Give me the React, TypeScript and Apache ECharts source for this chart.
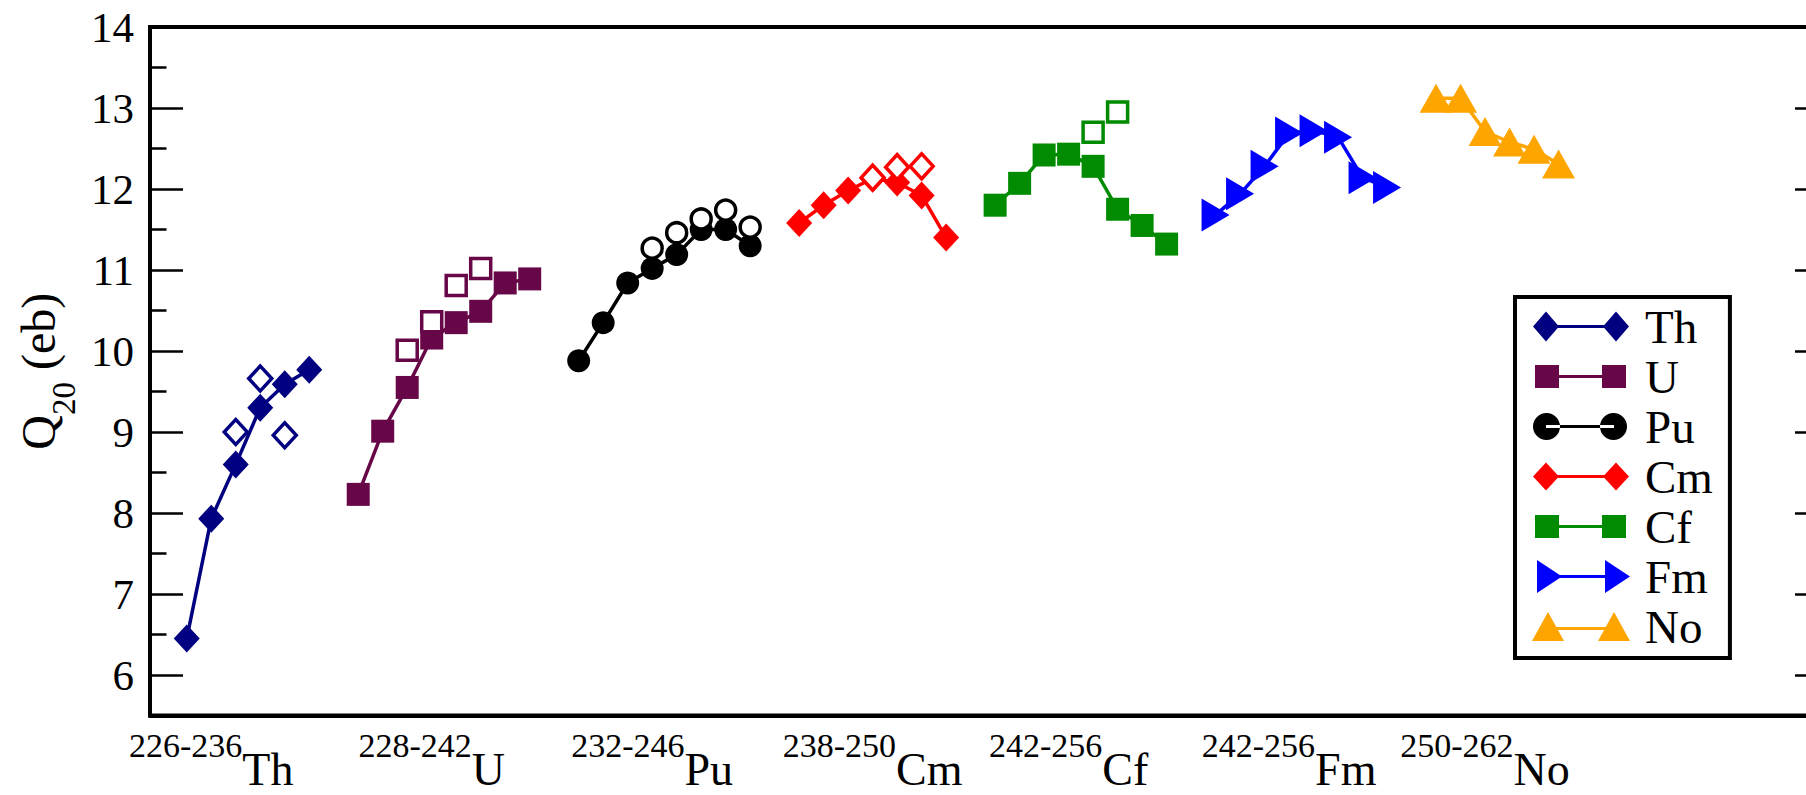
import React, { useEffect, useRef } from 'react';
import * as echarts from 'echarts';

// ---- data ----
const elements = ['Th', 'U', 'Pu', 'Cm', 'Cf', 'Fm', 'No'];
const massRanges = ['226-236', '228-242', '232-246', '238-250', '242-256', '242-256', '250-262'];
const groupStart = [0, 7, 16, 25, 33, 42, 51];
const labelPositions = [1, 10, 19, 28, 36, 45, 53];
const colors = ['#000080', '#670748', '#000000', '#ff0000', '#008b00', '#0000ff', '#ffa500'];

const thValues = [6.45, 7.93, 8.6, 9.3, 9.59, 9.77];
const uValues = [8.23, 9.01, 9.55, 10.16, 10.35, 10.49, 10.84, 10.89];
const puValues = [9.88, 10.35, 10.84, 11.02, 11.19, 11.5, 11.5, 11.3];
const cmValues = [11.58, 11.8, 11.98, 12.13, 12.08, 11.92, 11.4];
const cfValues = [11.8, 12.07, 12.42, 12.43, 12.28, 11.75, 11.55, 11.32];
const fmValues = [11.68, 11.94, 12.28, 12.69, 12.72, 12.64, 12.14, 12.02];
const noValues = [13.12, 13.12, 12.71, 12.58, 12.49, 12.31];

const thOpen = [null, null, 9.0, 9.66, 8.96, null];
const uOpen = [null, null, 10.01, 10.36, 10.81, 11.02, null, null];
const puOpen = [null, null, null, 11.27, 11.46, 11.63, 11.74, 11.53];
const cmOpen = [null, null, null, 12.14, 12.27, 12.28, null];
const cfOpen = [null, null, null, null, 12.7, 12.95, null, null];
const fmOpen = [null, null, null, null, null, null, null, null];
const noOpen = [null, null, null, null, null, null];

const yMajorTicks = [6, 7, 8, 9, 10, 11, 12, 13, 14];
const yMinorTicks = [6.5, 7.5, 8.5, 9.5, 10.5, 11.5, 12.5, 13.5];

const solidValues = [thValues, uValues, puValues, cmValues, cfValues, fmValues, noValues];
const openValues = [thOpen, uOpen, puOpen, cmOpen, cfOpen, fmOpen, noOpen];

// ---- styling ----
const FONT = "'Liberation Serif', 'DejaVu Serif', serif";
const symbols = ['diamond', 'rect', 'circle', 'diamond', 'rect', 'triangle', 'triangle'];
const symbolSizes: any[] = [[26, 28], 23, 23, [26, 28], 23, [33, 28], [33, 29]];
const openSizes: any[] = [[23, 25], 20, 20, [23, 25], 20, [30, 25], [30, 26]];
const symbolRotates = [0, 0, 0, 0, 0, -90, 0];

const BOX = 'M0,0M98,34';
const legendIcons = [
  'path://' + BOX + 'M1,17L14,2L27,17L14,32ZM71,17L84,2L97,17L84,32ZM14,15.5H84V18.5H14Z',
  'path://' + BOX + 'M3,5.5H27V28.5H3ZM70,5.5H94V28.5H70ZM27,15.5H70V18.5H27Z',
  'path://' + BOX + 'M1,17A13.5,13.5 0 1,0 28,17A13.5,13.5 0 1,0 1,17ZM68,17A13.5,13.5 0 1,0 95,17A13.5,13.5 0 1,0 68,17ZM14,15.5H82V18.5H14Z',
  'path://' + BOX + 'M1,17L14,3L27,17L14,31ZM71,17L84,3L97,17L84,31ZM14,15.5H84V18.5H14Z',
  'path://' + BOX + 'M3,5.5H27V28.5H3ZM70,5.5H94V28.5H70ZM27,15.5H70V18.5H27Z',
  'path://' + BOX + 'M5,0.5L30,17L5,33.5ZM73,0.5L98,17L73,33.5ZM17,15.5H85V18.5H17Z',
  'path://' + BOX + 'M0,31.5L16,2.5L32,31.5ZM66,31.5L82,2.5L98,31.5ZM16,17.5H82V20.5H16Z',
];

export default function App() {
  const ref = useRef<HTMLDivElement>(null);

  useEffect(() => {
    if (!ref.current) return;
    const chart = echarts.init(ref.current, undefined, { renderer: 'svg' });

    const series: any[] = [];
    elements.forEach((el, k) => {
      series.push({
        type: 'line',
        name: el,
        data: solidValues[k].map((v, i) => [groupStart[k] + i, v]),
        symbol: symbols[k],
        symbolSize: symbolSizes[k],
        symbolRotate: symbolRotates[k],
        showSymbol: true,
        showAllSymbol: true,
        lineStyle: { color: colors[k], width: 3.5 },
        itemStyle: { color: colors[k], borderWidth: 0 },
        emphasis: { disabled: true },
        z: 2,
      });
    });
    elements.forEach((el, k) => {
      const pts = openValues[k]
        .map((v, i) => (v == null ? null : [groupStart[k] + i, v]))
        .filter((p) => p !== null);
      if (pts.length === 0) return;
      series.push({
        type: 'scatter',
        name: el + ' open',
        data: pts,
        symbol: symbols[k],
        symbolSize: openSizes[k],
        symbolRotate: symbolRotates[k],
        itemStyle: { color: '#ffffff', borderColor: colors[k], borderWidth: 3.5, opacity: 1 },
        emphasis: { disabled: true },
        z: 3,
      });
    });

    const yBase = {
      type: 'value',
      min: 5.5,
      max: 14,
      splitLine: { show: false },
      axisLabel: { show: false },
      axisLine: { show: false, onZero: false },
    };

    chart.setOption({
      animation: false,
      backgroundColor: '#ffffff',
      textStyle: { fontFamily: FONT },
      grid: {
        left: 150,
        right: -22,
        top: 27,
        bottom: 79.5,
        show: true,
        borderColor: '#000',
        borderWidth: 4,
        containLabel: false,
        outerBoundsMode: 'none',
      },
      legend: {
        orient: 'vertical',
        left: 1515,
        top: 297,
        padding: [6, 17, 8, 17],
        itemWidth: 98,
        itemHeight: 34,
        itemGap: 3,
        borderColor: '#000',
        borderWidth: 4,
        backgroundColor: '#ffffff',
        itemStyle: { borderWidth: 0 },
        textStyle: {
          fontFamily: FONT,
          fontSize: 47,
          color: '#000',
          lineHeight: 40,
          padding: [0, 0, 0, 10],
        },
        data: elements.map((el, k) => ({ name: el, icon: legendIcons[k] })),
        selectedMode: false,
      },
      xAxis: {
        type: 'value',
        min: -1.5,
        max: 67,
        axisLine: { show: true, onZero: false, lineStyle: { color: '#000', width: 4 } },
        axisTick: { show: false },
        splitLine: { show: false },
        axisLabel: {
          customValues: labelPositions,
          margin: 13,
          fontFamily: FONT,
          formatter: (value: number) => {
            const k = labelPositions.indexOf(value);
            if (k < 0) return '';
            return '{sup|' + massRanges[k] + '}{el|' + elements[k] + '}';
          },
          rich: {
            sup: {
              fontFamily: FONT,
              fontSize: 34,
              lineHeight: 34,
              color: '#000',
              verticalAlign: 'top',
            },
            el: {
              fontFamily: FONT,
              fontSize: 46,
              lineHeight: 40,
              color: '#000',
              verticalAlign: 'top',
              padding: [17.5, 0, 0, 0],
            },
          },
        },
      },
      yAxis: [
        {
          type: 'value',
          min: 5.5,
          max: 14,
          position: 'left',
          splitLine: { show: false },
          axisLine: { show: true, onZero: false, lineStyle: { color: '#000', width: 4 } },
          axisTick: {
            show: true,
            inside: true,
            length: 33,
            customValues: yMajorTicks,
            lineStyle: { color: '#000', width: 2.5 },
          },
          axisLabel: {
            customValues: yMajorTicks,
            fontFamily: FONT,
            fontSize: 43,
            color: '#000',
            margin: 16,
          },
          name: '{q|Q}{s|20}{q| (eb)}',
          nameLocation: 'middle',
          nameRotate: 90,
          nameGap: 84,
          nameTextStyle: {
            fontFamily: FONT,
            rich: {
              q: { fontFamily: FONT, fontSize: 48, lineHeight: 48, color: '#000', verticalAlign: 'top' },
              s: {
                fontFamily: FONT,
                fontSize: 33,
                lineHeight: 33,
                color: '#000',
                verticalAlign: 'top',
                padding: [32.6, 0, 0, 0],
              },
            },
          },
        },
        {
          ...yBase,
          position: 'left',
          axisTick: {
            show: true,
            inside: true,
            length: 16.5,
            customValues: yMinorTicks,
            lineStyle: { color: '#000', width: 2.5 },
          },
        },
        {
          ...yBase,
          position: 'right',
          axisTick: {
            show: true,
            inside: true,
            length: 33,
            customValues: yMajorTicks,
            lineStyle: { color: '#000', width: 2.5 },
          },
        },
        {
          ...yBase,
          position: 'right',
          axisTick: {
            show: true,
            inside: true,
            length: 16.5,
            customValues: yMinorTicks,
            lineStyle: { color: '#000', width: 2.5 },
          },
        },
      ],
      series,
    });

    return () => chart.dispose();
  }, []);

  return (
    <div
      ref={ref}
      style={{ position: 'fixed', left: 0, top: 0, width: 1806, height: 795, background: '#fff' }}
    />
  );
}
